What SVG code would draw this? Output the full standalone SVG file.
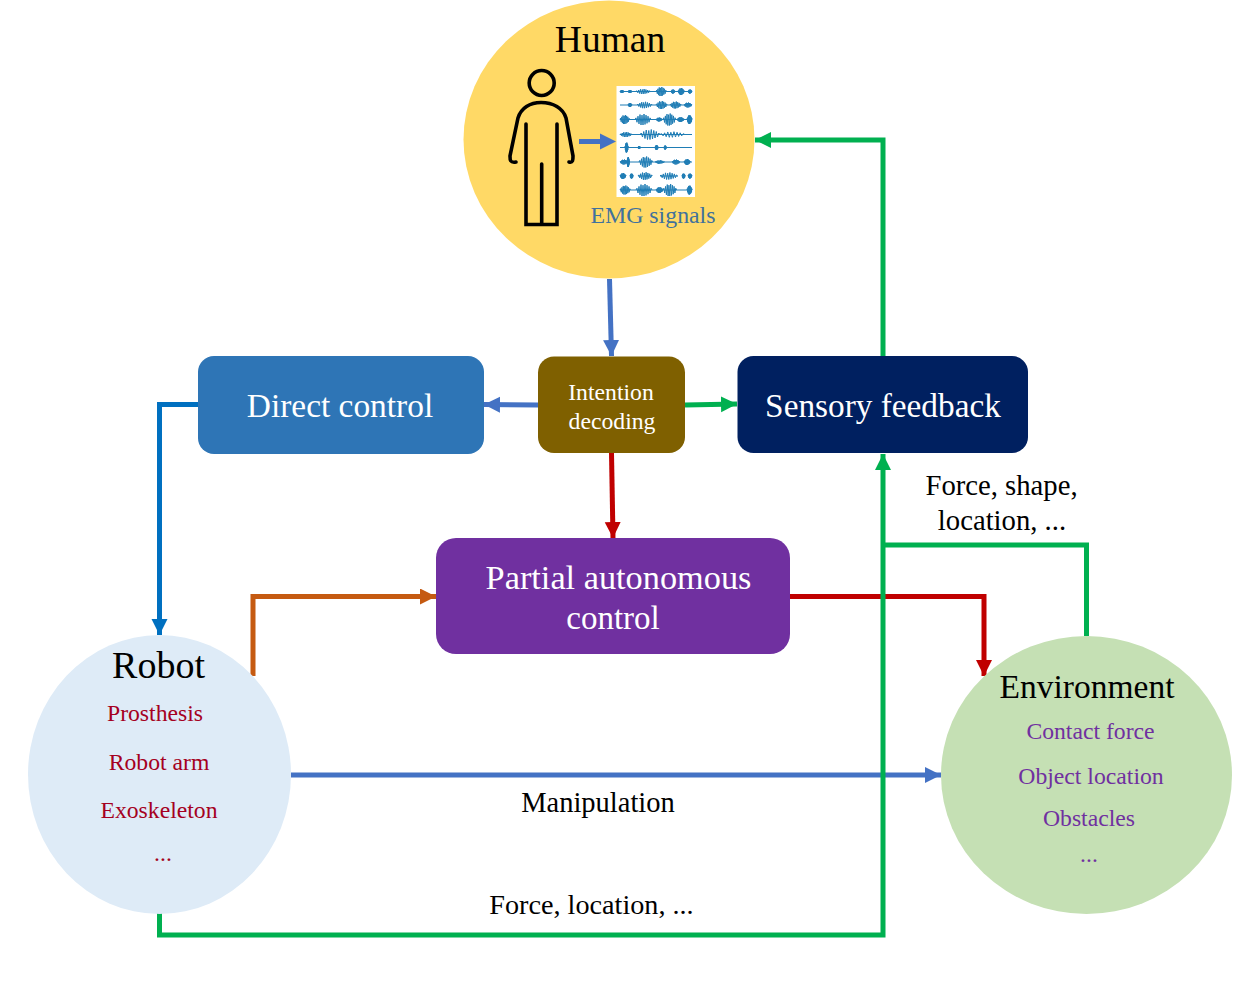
<svg xmlns="http://www.w3.org/2000/svg" width="1260" height="1001" viewBox="0 0 1260 1001">
<style>
text{font-family:"Liberation Serif","Times New Roman",serif;text-anchor:middle}
.w{fill:#fff}.k{fill:#000}.r{fill:#a50021;font-size:23.700px}.p{fill:#7030a0;font-size:23.700px}
.c{fill:none;stroke-width:5}
.emg path,.emg use{fill:none;stroke:#1f7db5;stroke-width:1;vector-effect:non-scaling-stroke}
.fig{fill:none;stroke:#000;stroke-width:3.600;stroke-linecap:round}
</style>
<defs>
<marker id="ab" markerUnits="userSpaceOnUse" markerWidth="18" markerHeight="18" refX="16" refY="8" orient="auto"><path d="M0 0L16 8L0 16Z" fill="#4472c4"/></marker>
<marker id="ag" markerUnits="userSpaceOnUse" markerWidth="18" markerHeight="18" refX="16" refY="8" orient="auto"><path d="M0 0L16 8L0 16Z" fill="#00b050"/></marker>
<marker id="ar" markerUnits="userSpaceOnUse" markerWidth="18" markerHeight="18" refX="16" refY="8" orient="auto"><path d="M0 0L16 8L0 16Z" fill="#c00000"/></marker>
<marker id="ao" markerUnits="userSpaceOnUse" markerWidth="18" markerHeight="18" refX="16" refY="8" orient="auto"><path d="M0 0L16 8L0 16Z" fill="#c55a11"/></marker>
<marker id="at" markerUnits="userSpaceOnUse" markerWidth="18" markerHeight="18" refX="16" refY="8" orient="auto"><path d="M0 0L16 8L0 16Z" fill="#0070c0"/></marker>
<path id="b" style="vector-effect:non-scaling-stroke" d="M0 0L1 -.3 2 .5 3 -.6 4 .8 5 -.9 6 1 7 -.8 8 1 9 -1 10 .9 11 -.8 12 .7 13 -.6 14 .5 15 -.3 16 0"/>
</defs>
<rect width="1260" height="1001" fill="#fff"/>

<g id="connectors">
<path class="c" stroke="#4472c4" marker-end="url(#ab)" d="M609.500 279L611.500 356"/>
<path class="c" stroke="#4472c4" marker-end="url(#ab)" d="M538 405L484 404.500"/>
<path class="c" stroke="#00b050" marker-end="url(#ag)" d="M685 405L737 404"/>
<path class="c" stroke="#c00000" marker-end="url(#ar)" d="M611.500 453L613 538"/>
<path class="c" stroke="#0070c0" marker-end="url(#at)" d="M198 404.500H159.500V635"/>
<path class="c" stroke="#c55a11" marker-end="url(#ao)" d="M253 676V596.500H436"/>
<path class="c" stroke="#c00000" marker-end="url(#ar)" d="M790 596.500H984V676"/>
<path class="c" stroke="#4472c4" marker-end="url(#ab)" d="M291 775H941"/>
<path class="c" stroke="#00b050" marker-end="url(#ag)" d="M159.500 913V935H883V454"/>
<path class="c" stroke="#00b050" d="M1086.500 636V545H883"/>
<path class="c" stroke="#00b050" marker-end="url(#ag)" d="M883 356V140H755"/>
</g>

<g id="human">
<ellipse cx="609" cy="139.500" rx="145.500" ry="139" fill="#ffd966"/>
<text x="610" y="52" class="k" font-size="37.500">Human</text>
<g class="fig">
<circle cx="541.700" cy="83" r="12.500"/>
<path d="M516 162C510 163 510 160 510 156L518 118C521 108 530 102.500 541 102.500C553 102.500 563 108 566 118L573 156C573 160 573 163 569 162"/>
<path d="M526 124V224.500H557V124M541.700 164V224.500"/>
</g>
<rect x="616.500" y="86" width="78.500" height="111" fill="#fff"/>
<g class="emg">
<path d="M620 91.500H692M620 105H692M620 119.500H692M620 134.500H692M620 147.500H692M620 162H692M620 176H626M630 176H633M638 176H652M660 176H678M682 176H685M688 176H692M620 190H692"/>
<use href="#b" transform="translate(620 91.500) scale(.25 1.500)"/>
<use href="#b" transform="translate(628 91.500) scale(.25 1.500)"/>
<use href="#b" transform="translate(636 91.500) scale(.9 2.500)"/>
<use href="#b" transform="translate(656 91.500) scale(.65 4.500)"/>
<use href="#b" transform="translate(671 91.500) scale(.25 2)"/>
<use href="#b" transform="translate(678 91.500) scale(.4 3.500)"/>
<use href="#b" transform="translate(688 91.500) scale(.25 2)"/>
<use href="#b" transform="translate(628 105) scale(.25 2)"/>
<use href="#b" transform="translate(637 105) scale(.95 3.200)"/>
<use href="#b" transform="translate(656 105) scale(.7 4)"/>
<use href="#b" transform="translate(670 105) scale(.7 3.500)"/>
<use href="#b" transform="translate(684 105) scale(.5 2.500)"/>
<use href="#b" transform="translate(620 119.500) scale(.6 4.500)"/>
<use href="#b" transform="translate(635 119.500) scale(1 5.500)"/>
<use href="#b" transform="translate(656 119.500) scale(.4 2)"/>
<use href="#b" transform="translate(663 119.500) scale(.8 6)"/>
<use href="#b" transform="translate(677 119.500) scale(.45 2.500)"/>
<use href="#b" transform="translate(687 119.500) scale(.32 4.500)"/>
<use href="#b" transform="translate(620 134.500) scale(.75 2.500)"/>
<use href="#b" transform="translate(640 134.500) scale(1.250 5)"/>
<use href="#b" transform="translate(660 134.500) scale(1.550 2.800)"/>
<use href="#b" transform="translate(625 147.500) scale(.2 5)"/>
<use href="#b" transform="translate(638 147.500) scale(.15 1.500)"/>
<use href="#b" transform="translate(655 147.500) scale(.2 2.500)"/>
<use href="#b" transform="translate(664 147.500) scale(.15 2)"/>
<use href="#b" transform="translate(620 162) scale(.5 2.500)"/>
<use href="#b" transform="translate(627 162) scale(.15 5)"/>
<use href="#b" transform="translate(639 162) scale(.85 5.500)"/>
<use href="#b" transform="translate(655 162) scale(.6 1.800)"/>
<use href="#b" transform="translate(672 162) scale(.5 2.500)"/>
<use href="#b" transform="translate(684 162) scale(.4 3)"/>
<use href="#b" transform="translate(620 176) scale(.38 3)"/>
<use href="#b" transform="translate(630 176) scale(.2 2.500)"/>
<use href="#b" transform="translate(638 176) scale(.9 3.800)"/>
<use href="#b" transform="translate(660 176) scale(1.100 3.500)"/>
<use href="#b" transform="translate(682 176) scale(.2 2.500)"/>
<use href="#b" transform="translate(688 176) scale(.25 2.500)"/>
<use href="#b" transform="translate(620 190) scale(.65 4.500)"/>
<use href="#b" transform="translate(636 190) scale(1 6)"/>
<use href="#b" transform="translate(656 190) scale(.45 3)"/>
<use href="#b" transform="translate(663 190) scale(.85 6)"/>
<use href="#b" transform="translate(687 190) scale(.32 4.500)"/>
</g>
<path class="c" stroke="#4472c4" d="M579 141.500H602"/>
<path d="M600 133.500L616 141.500L600 149.500Z" fill="#4472c4"/>
<text x="653" y="223" font-size="23.800" fill="#41719c">EMG signals</text>
</g>

<g id="direct-control">
<rect x="198" y="356" width="286" height="98" rx="16" fill="#2e75b6"/>
<text x="340" y="417" class="w" font-size="33.400">Direct control</text>
</g>

<g id="intention-decoding">
<rect x="538" y="356.500" width="147" height="96.500" rx="16" fill="#7f6000"/>
<text x="611" y="400" class="w" font-size="23.700">Intention</text>
<text x="612" y="429" class="w" font-size="23.700">decoding</text>
</g>

<g id="sensory-feedback">
<rect x="737.500" y="356" width="290.500" height="97" rx="16" fill="#002060"/>
<text x="883" y="417" class="w" font-size="33.300">Sensory feedback</text>
</g>

<g id="partial-autonomous-control">
<rect x="436" y="538" width="354" height="116" rx="20" fill="#7030a0"/>
<text x="618.500" y="589" class="w" font-size="34.300">Partial autonomous</text>
<text x="613" y="629" class="w" font-size="33">control</text>
</g>

<g id="robot">
<ellipse cx="159.500" cy="774.500" rx="131.500" ry="139.500" fill="#deebf7"/>
<text x="158.500" y="678" class="k" font-size="38">Robot</text>
<text x="155" y="721" class="r">Prosthesis</text>
<text x="159" y="770" class="r">Robot arm</text>
<text x="159" y="818" class="r">Exoskeleton</text>
<text x="163" y="861" class="r">...</text>
</g>

<g id="environment">
<ellipse cx="1086.500" cy="775" rx="145.500" ry="139" fill="#c5e0b4"/>
<text x="1087" y="698" class="k" font-size="33.500">Environment</text>
<text x="1090.500" y="739" class="p">Contact force</text>
<text x="1091" y="784" class="p">Object location</text>
<text x="1089" y="826" class="p">Obstacles</text>
<text x="1089" y="862" class="p">...</text>
</g>

<g id="labels">
<text x="1001.500" y="495" class="k" font-size="28.700">Force, shape,</text>
<text x="1002" y="530" class="k" font-size="28.700">location, ...</text>
<text x="598" y="812" class="k" font-size="28.500">Manipulation</text>
<text x="591.500" y="914" class="k" font-size="28.200">Force, location, ...</text>
</g>
</svg>
